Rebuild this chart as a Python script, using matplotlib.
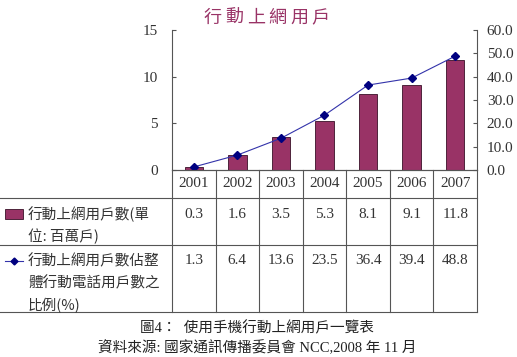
import matplotlib.pyplot as plt
from matplotlib.lines import Line2D
from matplotlib.patches import Rectangle

plt.rcParams['font.family'] = ['Liberation Serif', 'Noto Sans CJK TC', 'DejaVu Sans']

years = ["2001", "2002", "2003", "2004", "2005", "2006", "2007"]
users = [0.3, 1.6, 3.5, 5.3, 8.1, 9.1, 11.8]
ratio = [1.3, 6.4, 13.6, 23.5, 36.4, 39.4, 48.8]
users_label = ["行動上網用戶數(單", "位: 百萬戶)"]
ratio_label = ["行動上網用戶數佔整", "體行動電話用戶數之", "比例(%)"]
title = "行動上網用戶"
caption = ["圖4：  使用手機行動上網用戶一覽表", "資料來源: 國家通訊傳播委員會 NCC,2008 年 11 月"]

W, H = 517, 357
bar_color = "#993366"
line_color = "#000080"
grid_color = "#555555"

fig = plt.figure(figsize=(W / 100, H / 100), dpi=100)


def fx(px):
    return px / W


def fy(py):
    return 1 - py / H


left, right, top, bottom = 172, 477, 30, 170
ax = fig.add_axes([fx(left), fy(bottom), fx(right - left), (bottom - top) / H])
x = list(range(len(years)))
ax.bar(x, users, width=0.42, color=bar_color, edgecolor="#3a1028", linewidth=0.6, zorder=2)
ax.set_xlim(-0.5, len(years) - 0.5)
ax.set_ylim(0, 15)
ax.set_yticks([0, 5, 10, 15])
ax.set_xticks([])
for s in ["top", "right"]:
    ax.spines[s].set_visible(False)
ax.spines["left"].set_color(grid_color)
ax.spines["bottom"].set_color(grid_color)
ax.tick_params(axis="y", direction="in", length=3, color=grid_color, labelsize=11,
               labelcolor="#333333", pad=10)

ax2 = ax.twinx()
ax2.plot(x, ratio, color="#3333aa", linewidth=0.8, marker="D", markersize=4,
         markerfacecolor=line_color, markeredgecolor=line_color, zorder=3)
ax2.set_ylim(0, 60)
ax2.set_yticks(range(0, 61, 10))
ax2.set_yticklabels([f"{v:.1f}" for v in range(0, 61, 10)])
for s in ["top", "left", "bottom"]:
    ax2.spines[s].set_visible(False)
ax2.spines["right"].set_color(grid_color)
ax2.tick_params(axis="y", direction="in", length=3, color=grid_color, labelsize=11,
                labelcolor="#333333", pad=7)

# spaced title
for k, ch in enumerate(title):
    fig.text(fx(213 + 21.5 * k), fy(18), ch, ha="center", va="center", fontsize=13,
             color=bar_color, family=["Noto Sans CJK TC"])

# table grid
col_w = (right - left) / len(years)
rows_y = [170, 198, 245, 312]
for i, ry in enumerate(rows_y):
    x0 = left if i == 0 else 0
    fig.add_artist(Line2D([fx(x0), fx(right)], [fy(ry), fy(ry)], color=grid_color, lw=0.8))
for j in range(len(years) + 1):
    cx = left + j * col_w
    fig.add_artist(Line2D([fx(cx), fx(cx)], [fy(170), fy(312)], color=grid_color, lw=0.8))

tc = "#333333"
for j, yr in enumerate(years):
    cx = left + (j + 0.5) * col_w
    fig.text(fx(cx), fy(184), yr, ha="center", va="center", fontsize=11, color=tc)
    fig.text(fx(cx), fy(214), f"{users[j]:.1f}", ha="center", va="center", fontsize=11, color=tc)
    fig.text(fx(cx), fy(261), f"{ratio[j]:.1f}", ha="center", va="center", fontsize=11, color=tc)

# legend keys
fig.add_artist(Rectangle((fx(5), fy(219)), fx(18), 10 / H, facecolor=bar_color,
                         edgecolor="#3a1028", lw=0.6))
fig.add_artist(Line2D([fx(5), fx(23)], [fy(261), fy(261)], color="#3333aa", lw=0.8))
fig.add_artist(Line2D([fx(14)], [fy(261)], color=line_color, marker="D", markersize=3.5, lw=0))

for k, t in enumerate(users_label):
    fig.text(fx(28), fy(214 + 22 * k), t, ha="left", va="center", fontsize=10.5, color=tc,
             family=["Noto Sans CJK TC"])
for k, t in enumerate(ratio_label):
    fig.text(fx(28), fy(261 + 22.5 * k), t, ha="left", va="center", fontsize=10.5, color=tc,
             family=["Noto Sans CJK TC"])

for k, t in enumerate(caption):
    fig.text(fx(257), fy(328 + 20 * k), t, ha="center", va="center", fontsize=10.5, color="#222222")

fig.savefig("out.png", dpi=100)
